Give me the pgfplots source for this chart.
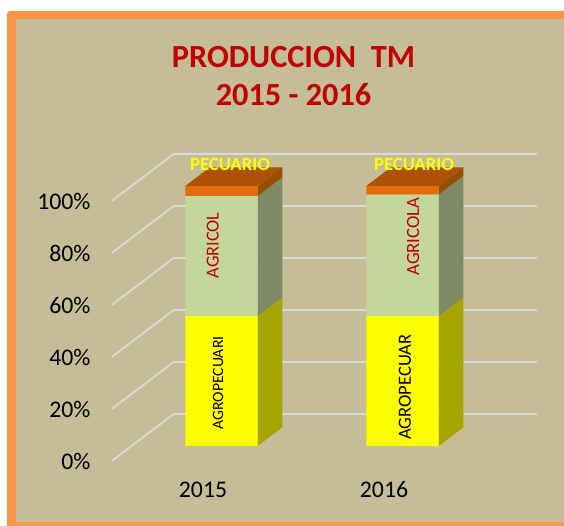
\documentclass[border=0pt]{standalone}
\usepackage{pgfplots}
\pgfplotsset{compat=1.18}
\usepackage{fontspec}
\setmainfont{Carlito}
\definecolor{bgc}{HTML}{C4BD97}
\definecolor{bord}{HTML}{F79646}
\definecolor{gridc}{HTML}{D9D9D9}
\definecolor{yelF}{HTML}{FFFF00}
\definecolor{yelS}{HTML}{A6A600}
\definecolor{grnF}{HTML}{C3D69B}
\definecolor{grnS}{HTML}{7E8A65}
\definecolor{orF}{HTML}{E46C0A}
\definecolor{orS}{HTML}{974F05}
\definecolor{orT}{HTML}{AD5205}
\definecolor{redT}{HTML}{C00000}
\pgfplotsset{
 base/.style={at={(112pt,64.3pt)},anchor=south west,scale only axis,width=425pt,height=260pt,
  xmin=112,xmax=537,ymin=0,ymax=100,clip=false,axis line style={draw=none},major tick length=0pt},
 sf/.style={draw=none,fill=#1,forget plot}
}
\begin{document}
\begin{tikzpicture}[x=1pt,y=1pt]
\path[use as bounding box] (0,0) rectangle (564,525);
\fill[white] (0,0) rectangle (564,525);
\fill[bord,rounded corners=3pt] (7,-5) rectangle (580,514);
\fill[bgc] (16,3.5) rectangle (564,505.5);
\begin{axis}[base,
  xtick={203,384},xticklabels={2015,2016},
  ytick={0,20,40,60,80,100},
  yticklabel={\pgfmathprintnumber{\tick}\%},
  /pgf/number format/assume math mode=true,
  yticklabel style={font=\fontsize{23.8}{24}\selectfont,xshift=-18pt,yshift=-0.7pt},
  xticklabel style={font=\fontsize{23.8}{24}\selectfont,yshift=-18pt,text height=15pt,text depth=0pt}]
% gridlines
\foreach \v in {0,20,40,60,80,100}{
 \edef\temp{\noexpand\addplot[gridc,line width=1.8pt,forget plot] coordinates {(112,\v) (174,\the\numexpr\v+18\relax) (537,\the\numexpr\v+18\relax)};}
 \temp
}
% 2015 side faces
\addplot[sf=yelS] coordinates {(257.7,5.65) (282.3,12.84) (282.3,62.84) (257.7,55.65)} --cycle;
\addplot[sf=grnS] coordinates {(257.7,55.65) (282.3,62.84) (282.3,109) (257.7,101.8)} --cycle;
\addplot[sf=orS] coordinates {(257.7,101.8) (282.3,109) (282.3,112.84) (257.7,105.65)} --cycle;
\addplot[sf=orT] coordinates {(185.3,105.65) (257.7,105.65) (282.3,112.84) (209.9,112.84)} --cycle;
% 2016 side faces
\addplot[sf=yelS] coordinates {(438.7,5.65) (463.3,12.84) (463.3,62.84) (438.7,55.65)} --cycle;
\addplot[sf=grnS] coordinates {(438.7,55.65) (463.3,62.84) (463.3,109.5) (438.7,102.35)} --cycle;
\addplot[sf=orS] coordinates {(438.7,102.35) (463.3,109.5) (463.3,112.84) (438.7,105.65)} --cycle;
\addplot[sf=orT] coordinates {(366.3,105.65) (438.7,105.65) (463.3,112.84) (390.9,112.84)} --cycle;
\end{axis}
\begin{axis}[base,ybar stacked,bar width=72.4,xtick=\empty,ytick=\empty,yshift=14.7pt]
\addplot[draw=none,fill=yelF] coordinates {(221.5,50) (402.5,50)};
\addplot[draw=none,fill=grnF] coordinates {(221.5,46.15) (402.5,46.7)};
\addplot[draw=none,fill=orF] coordinates {(221.5,3.85) (402.5,3.3)};
\end{axis}
\begin{axis}[base,xtick=\empty,ytick=\empty]
\node[rotate=90,font=\fontsize{15.7}{16}\selectfont,text=black] at (axis cs:218,29.9) {AGROPECUARI};
\node[rotate=90,font=\fontsize{18.6}{19}\selectfont,text=black] at (axis cs:405,28.3) {AGROPECUAR};
\node[rotate=90,font=\fontsize{18.3}{19}\selectfont,text=redT] at (axis cs:212.7,82.8) {AGRICOL};
\node[rotate=90,font=\fontsize{18.7}{19}\selectfont,text=redT] at (axis cs:413,86.2) {AGRICOLA};
\node[font=\bfseries\fontsize{18.7}{19}\selectfont,text=yelF] at (axis cs:230,113.8) {PECUARIO};
\node[font=\bfseries\fontsize{18.7}{19}\selectfont,text=yelF] at (axis cs:414,113.8) {PECUARIO};
\end{axis}
\node[font=\bfseries\fontsize{32.3}{33}\selectfont,text=redT] at (293.5,468) {PRODUCCION\ \ TM};
\node[font=\bfseries\fontsize{32.3}{33}\selectfont,text=redT] at (293.5,430) {2015 - 2016};
\end{tikzpicture}
\end{document}
